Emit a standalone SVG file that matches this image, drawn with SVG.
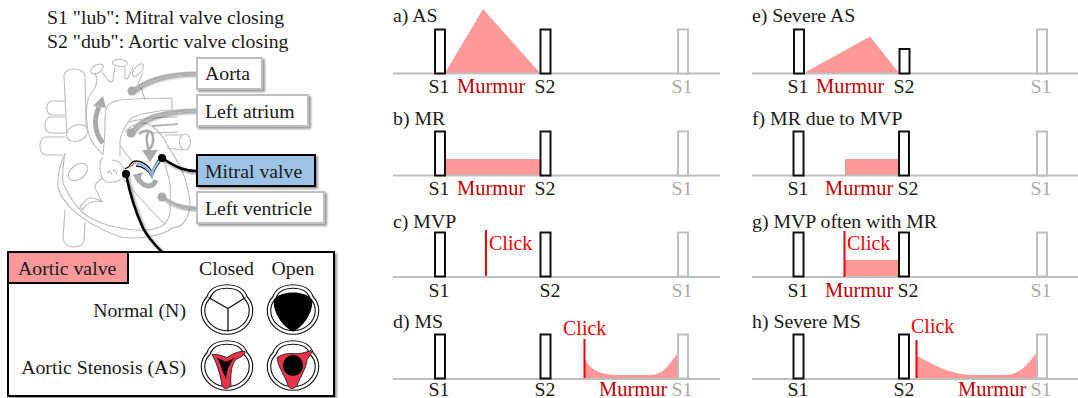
<svg xmlns="http://www.w3.org/2000/svg" width="1078" height="398" viewBox="0 0 1078 398">
<style>
text{font-family:"Liberation Serif","Times New Roman",serif;font-size:19.8px;fill:#1a1a1a}
.mid{text-anchor:middle}
.end{text-anchor:end}
.gt{fill:#aaa}
.red{fill:#c00000;font-size:20.5px}
.click{fill:#f00000;font-size:20px}
.axis{stroke:#bfbfbf;stroke-width:2;fill:none}
.snd{fill:#fff;stroke:#111;stroke-width:2}
.gsnd{fill:#fff;stroke:#bfbfbf;stroke-width:2}
.mur{fill:#ff9999;stroke:none}
.cl{stroke:#f00000;stroke-width:2;fill:none}
.h{fill:none;stroke:#bdbdbd;stroke-width:1.1}
.hf{fill:#fff;stroke:#bdbdbd;stroke-width:1.1}
.hb{fill:none;stroke:#b5b5b5;stroke-width:2}
.ga{fill:none;stroke:#aaa;stroke-width:5}
.gc{fill:none;stroke:#b0b0b0;stroke-width:3;filter:url(#sh)}
.gl2{fill:none;stroke:#aaa;stroke-width:2.500}
.gh{fill:#aaa;stroke:none}
.gl{fill:#fff;stroke:#bfbfbf;stroke-width:2;filter:url(#sh)}
.bl{stroke:#000;stroke-width:2;filter:url(#sh)}
.bc{fill:none;stroke:#000;stroke-width:2.500;filter:url(#sh)}
.v1{fill:none;stroke:#111;stroke-width:4.600}
.v2{fill:none;stroke:#fff;stroke-width:2.400}
.vl{fill:none;stroke:#111;stroke-width:1.300}
</style>
<defs>
<filter id="sh" x="-20%" y="-30%" width="145%" height="165%"><feDropShadow dx="2" dy="2" stdDeviation="1.300" flood-color="#000" flood-opacity=".4"/></filter>
<path id="outline" d="M-18.500-12C-16-20-8-23 0-23C8-23 16-20 18.500-12C21.500-9 24-4 24 1C24 13 13 23 0 23C-13 23-24 13-24 1C-24-4-21.500-9-18.500-12Z"/>
<g id="ring">
<use href="#outline" class="v1"/>
<use href="#outline" class="v2"/>
</g>
<path id="open" d="M0-17C8-17 15-15 19-10C21 2 10 18 0 22C-10 18-21 2-19-10C-15-15-8-17 0-17Z"/>
</defs>

<g id="caption">
<text x="47" y="24">S1 "lub": Mitral valve closing</text>
<text x="47" y="48">S2 "dub": Aortic valve closing</text>
</g>

<g id="heart">
<path class="h" d="M65 101H53Q47 101 47 108Q47 115 53 115H65M65 117H52Q45 117 45 125Q45 133 52 133H66M65 137H47Q40 137 40 146Q40 155 47 155H63"/>
<path class="h" d="M64 75Q66 69 74 69Q82 69 85 75L86 126M64 75L67 137"/>
<ellipse class="hf" cx="77" cy="133" rx="11" ry="8" transform="rotate(-20 77 133)"/>
<path class="h" d="M65 153C60 165 57 178 58 187C62 203 80 222 120 237C140 240 165 235 172 228C185 228 190 215 190 202C189 190 186 185 185 178C178 160 172 152 167 145C163 135 152 123 143 123C135 124 128 128 125 132"/>
<path class="h" d="M65 153C63 165 62 175 63 183C68 195 75 205 83 213C95 222 108 226 120 228C135 231 155 232 165 224C170 217 171 210 170 205C171 190 170 180 168 175C166 168 164 160 162 155"/>
<path class="h" d="M65 210L63 238C64 244 68 247 73 247C79 247 84 245 84 240L85 222"/>
<path class="h" d="M92 68C94 72 96 76 97 78C97 84 96 86 95 88C91 93 89 96 88 100C86 108 86 115 87 122C87 130 89 134 90 138C94 146 99 150 103 155"/>
<ellipse class="hf" cx="97" cy="69" rx="7" ry="4" transform="rotate(-30 97 69)"/>
<path class="h" d="M102 72C105 76 107 80 110 82C112 82 113 81 113 80L115 67M125 67L125 78C126 80 127 79 128 78L133 67M143 73L138 83L142 90L145 100"/>
<ellipse class="hf" cx="120" cy="63" rx="7.500" ry="3.500" transform="rotate(6 120 63)"/>
<ellipse class="hf" cx="138" cy="70" rx="7.500" ry="3.500" transform="rotate(-50 138 70)"/>
<path class="h" d="M103 155C104 145 105 130 105 122C105 115 106 108 108 105C110 103 114 101 120 100C140 98 160 98 172 98V110C165 110 160 111 153 112C145 113 138 115 133 117C129 120 127 124 125 127C122 133 120 138 120 142V157"/>
<path class="h" d="M128 122C145 118 160 117 177 117M120 145C124 152 129 158 133 162"/>
<path class="hb" d="M152 126L178 124"/>
<path class="h" d="M153 133L178 132M165 135H185M167 148L183 150"/>
<ellipse class="hf" cx="185" cy="142" rx="5.500" ry="8"/>
<path class="h" d="M123 178L140 198Q155 215 165 224"/>
<ellipse class="h" cx="78" cy="172" rx="11" ry="7" transform="rotate(-38 78 172)"/>
<path class="h" d="M102 178C98 181 95 184 95 187C95 190 97 191 98 193C98 196 100 199 103 202C100 200 95 199 92 198C89 197 85 200 80 207L83 210C85 205 88 203 92 202C95 201 99 201 103 202"/>
<path class="h" d="M103 157C100 160 100 163 100 168C100 175 102 180 107 182C111 183 116 182 120 180C124 178 125 172 123 167C120 162 117 160 112 160"/>
<path class="h" d="M108 174C108 170 110 170 112 175M113 172C114 168 116 170 117 174"/>
<path class="ga" d="M99 107C93 120 95 134 103 143"/>
<path class="gh" d="M103 96L93 106L106 108Z"/>
<path class="gl2" d="M139 134C145 129 153 130 153 137C154 145 150 150 144 152M148 132Q145 140 149 150"/>
<path class="gh" d="M150 162L142 150H158Z"/>
<path class="ga" d="M138 178C142 186 152 190 156 180"/>
<path class="gh" d="M133 175L143 172L138 184Z"/>
<path fill="none" stroke="#111" stroke-width="1.300" d="M125 169C127 167 129 168 130 165M130 165C132 162 134 161 136 161C142 161 150 166 152 173C154 165 157 160 162 158M136 166C143 166 149 171 152 177C154 171 155 167 160 162"/>
<path fill="none" stroke="#8fbbe3" stroke-width="2.600" d="M137 163.500C143 164.500 149 168.500 152 175C153 169 155 165 160 160"/>
<path fill="none" stroke="#d98080" stroke-width="1.300" d="M130 167C132 165 134 163 136 163"/>
</g>

<g id="connectors">
<path class="gc" d="M197 73C170 73 147 78 132 91"/>
<circle class="gh" cx="132" cy="91" r="4.500"/>
<path class="gc" d="M197 110C170 110 140 115 131 133"/>
<circle class="gh" cx="131" cy="133" r="4.500"/>
<path class="gc" d="M197 208C180 207 172 204 162 197"/>
<circle class="gh" cx="162" cy="197" r="4.500"/>
<path class="bc" d="M197 171C185 171 177 168 162 158"/>
<circle cx="162" cy="158" r="4"/>
<path class="bc" d="M126 174C130 195 136 213 143 228C148 238 155 245 162 252"/>
<circle cx="126" cy="174" r="4"/>
</g>

<g id="aorta"><rect class="gl" x="197" y="58" width="65" height="31"/><text x="205" y="80">Aorta</text></g>
<g id="left-atrium"><rect class="gl" x="197" y="95" width="111" height="31"/><text x="205" y="118">Left atrium</text></g>
<g id="mitral-valve"><rect class="bl" x="197" y="155" width="118" height="31" fill="#9dc3e6"/><text x="205" y="178">Mitral valve</text></g>
<g id="left-ventricle"><rect class="gl" x="197" y="192" width="127" height="31"/><text x="205" y="215">Left ventricle</text></g>

<g id="aortic-valve">
<rect class="bl" x="8" y="252" width="326" height="144" fill="#fff"/>
<rect x="8" y="252" width="120" height="31" fill="#ff9999" stroke="#000" stroke-width="2"/>
<text x="18" y="275">Aortic valve</text>
<text class="mid" x="226.500" y="275">Closed</text>
<text class="mid" x="293" y="275">Open</text>
<text class="end" x="186" y="317">Normal (N)</text>
<text class="end" x="186" y="374">Aortic Stenosis (AS)</text>
<g transform="translate(227 309.500)">
<use href="#ring"/>
<path class="vl" d="M-18.500-12L1-1L18.500-12M1-1L1 22"/>
</g>
<g transform="translate(293 309.500)">
<use href="#ring"/>
<use href="#open"/>
</g>
<g transform="translate(227 365.500)">
<use href="#ring"/>
<path d="M-15-11C-9-12-4-9 0-8C6-12 13-15 18-14C19-11 13-8 9-6C5-2 3 8 4 20C1 24-4 24-5 20C-6 12-9 0-15-11Z" fill="#e8334a" stroke="#111" stroke-width=".8"/>
<path d="M-10-8C-6-6-3-4 0-4C3-5 5-7 8-8C3-3 0 3-1 13C-4 8-6-1-10-8Z"/>
</g>
<g transform="translate(293 365.500)">
<use href="#ring"/>
<path d="M-16-8C-10-12-5-12 0-12C6-11 12-13 18-15C20-11 14-8 14-5C13 3 8 10 4 20C1 24-4 24-5 20C-7 12-15 2-16-8Z" fill="#e8334a" stroke="#111" stroke-width=".8"/>
<ellipse cx="0" cy="0" rx="10" ry="10.500"/>
</g>
</g>

<g id="panel-a">
<text x="393" y="22">a) AS</text>
<path class="mur" d="M445 73L483 9L540 73Z"/>
<path class="axis" d="M393 73.500H720"/>
<rect class="snd" x="435" y="29.500" width="10" height="44"/><rect class="snd" x="540.500" y="29.500" width="10" height="44"/><rect class="gsnd" x="678" y="29.500" width="10" height="44"/>
<text class="mid" x="439" y="93">S1</text><text class="red" x="457" y="93">Murmur</text><text class="mid" x="545" y="93">S2</text><text class="mid gt" x="682" y="93">S1</text>
</g>
<g id="panel-b">
<text x="393" y="125">b) MR</text>
<rect class="mur" x="445" y="159" width="95" height="16"/>
<path class="axis" d="M393 175.500H720"/>
<rect class="snd" x="435" y="131.500" width="10" height="44"/><rect class="snd" x="540.500" y="131.500" width="10" height="44"/><rect class="gsnd" x="678" y="131.500" width="10" height="44"/>
<text class="mid" x="439" y="195">S1</text><text class="red" x="457" y="195">Murmur</text><text class="mid" x="545" y="195">S2</text><text class="mid gt" x="682" y="195">S1</text>
</g>
<g id="panel-c">
<text x="393" y="228">c) MVP</text>
<path class="axis" d="M393 277H720"/>
<rect class="snd" x="435" y="232.500" width="10" height="44"/><rect class="snd" x="540.500" y="232.500" width="10" height="44"/><rect class="gsnd" x="678" y="232.500" width="10" height="44"/>
<path class="cl" d="M486 230V276"/>
<text class="click" x="489" y="250">Click</text>
<text class="mid" x="439" y="297">S1</text><text class="mid" x="550" y="297">S2</text><text class="mid gt" x="682" y="297">S1</text>
</g>
<g id="panel-d">
<text x="393" y="328">d) MS</text>
<path class="mur" d="M584 357C590 370 600 375 620 375L650 375C665 375 670 362 677 354V379H584Z"/>
<path class="axis" d="M393 379H720"/>
<rect class="snd" x="435" y="334.500" width="10" height="44"/><rect class="snd" x="540.500" y="334.500" width="10" height="44"/><rect class="gsnd" x="678" y="334.500" width="10" height="44"/>
<path class="cl" d="M584.500 339V378"/>
<text class="click" x="563" y="335">Click</text>
<text class="mid" x="439" y="396">S1</text><text class="mid" x="545" y="396">S2</text><text class="mid gt" x="682" y="396">S1</text><text class="red" x="599" y="396">Murmur</text>
</g>

<g id="panel-e">
<text x="752" y="22">e) Severe AS</text>
<path class="mur" d="M804 73L870 36.500L899 73Z"/>
<path class="axis" d="M752 73.500H1078"/>
<rect class="snd" x="794" y="29.500" width="10" height="44"/><rect class="snd" x="899.500" y="49" width="10" height="24.500"/><rect class="gsnd" x="1037" y="29.500" width="10" height="44"/>
<text class="mid" x="798" y="93">S1</text><text class="red" x="816" y="93">Murmur</text><text class="mid" x="904" y="93">S2</text><text class="mid gt" x="1041" y="93">S1</text>
</g>
<g id="panel-f">
<text x="752" y="125">f) MR due to MVP</text>
<rect class="mur" x="845" y="159" width="53" height="16"/>
<path class="axis" d="M752 175.500H1078"/>
<rect class="snd" x="793.500" y="131.500" width="10" height="44"/><rect class="snd" x="899" y="131.500" width="10" height="44"/><rect class="gsnd" x="1037" y="131.500" width="10" height="44"/>
<text class="mid" x="798" y="195">S1</text><text class="red" x="825" y="195">Murmur</text><text class="mid" x="908" y="195">S2</text><text class="mid gt" x="1041" y="195">S1</text>
</g>
<g id="panel-g">
<text x="752" y="228">g) MVP often with MR</text>
<rect class="mur" x="845" y="260" width="53" height="17"/>
<path class="axis" d="M752 277H1078"/>
<rect class="snd" x="793.500" y="232.500" width="10" height="44"/><rect class="snd" x="899" y="232.500" width="10" height="44"/><rect class="gsnd" x="1037" y="232.500" width="10" height="44"/>
<path class="cl" d="M844.500 231V277"/>
<text class="click" x="847" y="250">Click</text>
<text class="mid" x="798" y="297">S1</text><text class="red" x="825" y="297">Murmur</text><text class="mid" x="908" y="297">S2</text><text class="mid gt" x="1041" y="297">S1</text>
</g>
<g id="panel-h">
<text x="752" y="328">h) Severe MS</text>
<path class="mur" d="M917 356C935 365 950 375 975 375L1005 375C1022 375 1028 362 1036 354V379H917Z"/>
<path class="axis" d="M752 379H1078"/>
<rect class="snd" x="793.500" y="334.500" width="10" height="44"/><rect class="snd" x="899" y="334.500" width="10" height="44"/><rect class="gsnd" x="1037" y="334.500" width="10" height="44"/>
<path class="cl" d="M916.500 340V378"/>
<text class="click" x="911" y="333">Click</text>
<text class="mid" x="798" y="396">S1</text><text class="mid" x="904" y="396">S2</text><text class="mid gt" x="1041" y="396">S1</text><text class="red" x="958" y="396">Murmur</text>
</g>
</svg>
